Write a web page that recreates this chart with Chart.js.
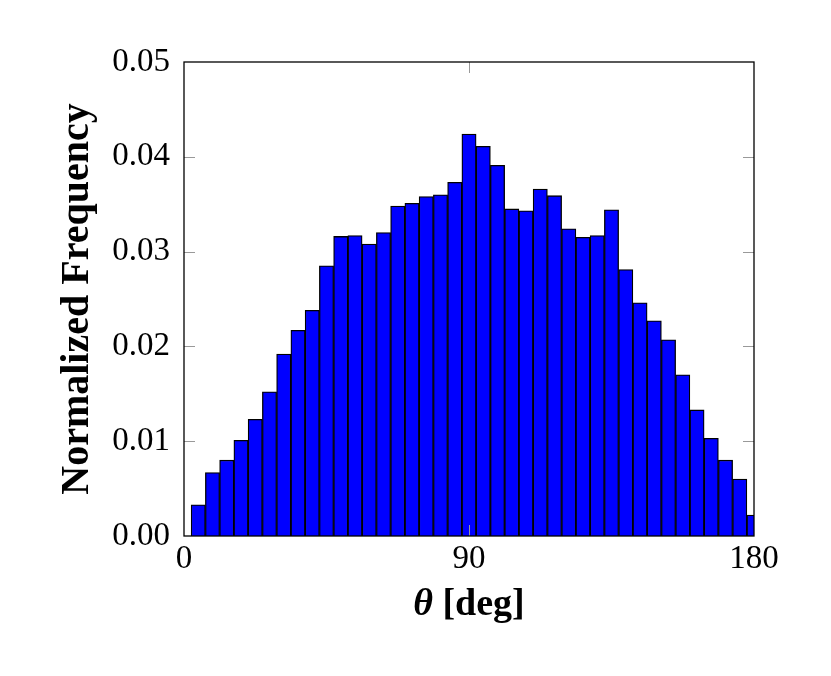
<!DOCTYPE html>
<html>
<head>
<meta charset="utf-8">
<script src="https://cdn.jsdelivr.net/npm/chart.js@4.4.0/dist/chart.umd.min.js"></script>
<style>
  html, body { margin: 0; padding: 0; background: #fff; }
  #wrap { width: 831px; height: 676px; }
</style>
</head>
<body>
<div id="wrap"><canvas id="histChart" width="831" height="676"></canvas></div>
<script>
// bin centres in degrees (bin width 4.5)
var binCenters = [4.5, 9, 13.5, 18, 22.5, 27, 31.5, 36, 40.5, 45,
  49.5, 54, 58.5, 63, 67.5, 72, 76.5, 81, 85.5, 90,
  94.5, 99, 103.5, 108, 112.5, 117, 121.5, 126, 130.5, 135,
  139.5, 144, 148.5, 153, 157.5, 162, 166.5, 171, 175.5, 180];

// normalized frequency per bin
var frequencies = [0.0033, 0.0067, 0.0080, 0.0101, 0.0123, 0.0152, 0.0192, 0.0217, 0.0238, 0.0285,
  0.0316, 0.0317, 0.0308, 0.0320, 0.0348, 0.0351, 0.0358, 0.0360, 0.0373, 0.0424,
  0.0411, 0.0391, 0.0345, 0.0343, 0.0366, 0.0359, 0.0324, 0.0315, 0.0317, 0.0344,
  0.0281, 0.0246, 0.0227, 0.0207, 0.0170, 0.0133, 0.0103, 0.0080, 0.0060, 0.0022];

var xTicks = [0, 90, 180];
var yTicks = [0, 0.01, 0.02, 0.03, 0.04, 0.05];

var serif = "'Liberation Serif', 'DejaVu Serif', serif";
Chart.defaults.font.family = serif;
Chart.defaults.color = "#000";

var points = binCenters.map(function (x, i) {
  return { x: x, y: frequencies[i] };
});

// frame, inward ticks and the mixed-font x title
var framePlugin = {
  id: "frame",
  afterDatasetsDraw: function (chart) {
    var ctx = chart.ctx;
    var a = chart.chartArea;
    var xs = chart.scales.x;
    var ys = chart.scales.y;
    ctx.save();
    ctx.strokeStyle = "#999";
    ctx.lineWidth = 1;
    var tl = 11;
    yTicks.slice(1, -1).forEach(function (v) {
      var py = Math.round(ys.getPixelForValue(v)) + 0.5;
      ctx.beginPath();
      ctx.moveTo(a.left, py); ctx.lineTo(a.left + tl, py);
      ctx.moveTo(a.right, py); ctx.lineTo(a.right - tl, py);
      ctx.stroke();
    });
    xTicks.slice(1, -1).forEach(function (v) {
      var px = Math.round(xs.getPixelForValue(v)) + 0.5;
      ctx.beginPath();
      ctx.moveTo(px, a.bottom); ctx.lineTo(px, a.bottom - tl);
      ctx.moveTo(px, a.top); ctx.lineTo(px, a.top + tl);
      ctx.stroke();
    });
    ctx.strokeStyle = "#000";
    ctx.lineWidth = 1.3;
    ctx.strokeRect(a.left, a.top, a.right - a.left, a.bottom - a.top);

    // x axis title
    var theta = "\u03B8";
    var rest = " [deg]";
    var size = 38;
    ctx.fillStyle = "#000";
    ctx.textBaseline = "alphabetic";
    ctx.font = "italic bold " + size + "px " + serif;
    var w1 = ctx.measureText(theta).width;
    ctx.font = "bold " + size + "px " + serif;
    var w2 = ctx.measureText(rest).width;
    var cx = (a.left + a.right) / 2;
    var x0 = cx - (w1 + w2) / 2;
    var by = 615;
    ctx.font = "italic bold " + size + "px " + serif;
    ctx.fillText(theta, x0, by);
    ctx.font = "bold " + size + "px " + serif;
    ctx.fillText(rest, x0 + w1, by);
    ctx.restore();
  }
};

new Chart(document.getElementById("histChart"), {
  type: "bar",
  data: {
    datasets: [{
      label: "Normalized Frequency",
      data: points,
      backgroundColor: "#0000ff",
      borderColor: "#000",
      borderWidth: 1.3,
      barPercentage: 1,
      categoryPercentage: 1,
      grouped: false,
      clip: 0
    }]
  },
  options: {
    responsive: false,
    animation: false,
    layout: { padding: { top: 62, right: 77, left: 0, bottom: 0 } },
    plugins: {
      legend: { display: false },
      tooltip: { enabled: false }
    },
    scales: {
      x: {
        type: "linear",
        min: 0,
        max: 180,
        offset: false,
        grid: { display: false, drawTicks: false },
        border: { display: false },
        afterBuildTicks: function (scale) {
          scale.ticks = xTicks.map(function (v) { return { value: v }; });
        },
        afterFit: function (scale) { scale.height = 140; },
        ticks: {
          padding: 4,
          maxRotation: 0,
          font: { size: 33 }
        }
      },
      y: {
        min: 0,
        max: 0.05,
        grid: { display: false, drawTicks: false },
        border: { display: false },
        afterBuildTicks: function (scale) {
          scale.ticks = yTicks.map(function (v) { return { value: v }; });
        },
        afterFit: function (scale) { scale.width = 184; },
        ticks: {
          padding: 14,
          font: { size: 33 },
          callback: function (v) { return Number(v).toFixed(2); }
        },
        title: {
          display: true,
          text: "Normalized Frequency",
          font: { size: 40, weight: "bold" },
          padding: { top: 54, bottom: 0 }
        }
      }
    }
  },
  plugins: [framePlugin]
});
</script>
</body>
</html>
